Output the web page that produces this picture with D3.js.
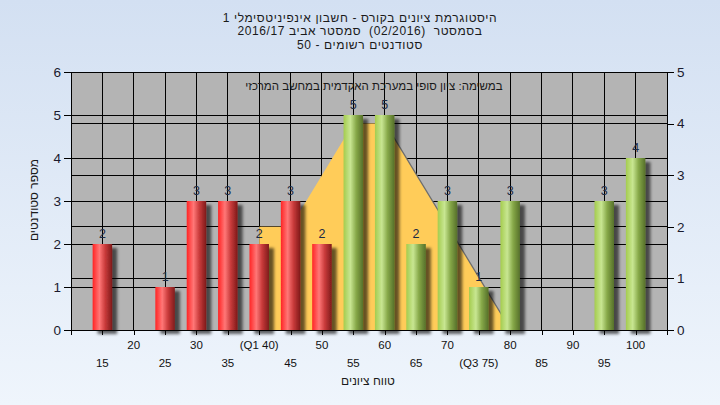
<!DOCTYPE html>
<html><head><meta charset="utf-8">
<script src="https://cdn.jsdelivr.net/npm/d3@7/dist/d3.min.js"></script>
<style>
html,body{margin:0;padding:0;}
body{width:720px;height:405px;overflow:hidden;}
text{font-family:"Liberation Sans",Arial,"DejaVu Sans",sans-serif;white-space:pre;}
</style></head>
<body>
<svg id="c" width="720" height="405"></svg>
<script>
// ---- data ----
const grades = [15,20,25,30,35,40,45,50,55,60,65,70,75,80,85,90,95,100];
const counts = [2,0,1,3,3,2,3,2,5,5,2,3,1,3,0,0,3,4];
const passMark = 55;
const curveX = [40,45,50,55,60,65,70,75,80];
const curveY = [2,2,3,4,4,3,2,1,0];
const xRow1Vals = [20,30,40,50,60,70,80,90,100];
const xRow1Labels = ["20","30","(Q1 40)","50","60","70","80","90","100"];
const xRow2Vals = [15,25,35,45,55,65,75,85,95];
const xRow2Labels = ["15","25","35","45","55","65","(Q3 75)","85","95"];
const titleLines = ["היסטוגרמת ציונים בקורס - חשבון אינפיניטסימלי 1",
                    "בסמסטר  (02/2016)  סמסטר אביב 2016/17",
                    "סטודנטים רשומים - 50"];
const subTitle = "במשימה: ציון סופי במערכת האקדמית במחשב המרכזי";
const yTitle = "מספר סטודנטים";
const xTitle = "טווח ציונים";

// ---- layout ----
const L = 71, R = 667, T = 72, B = 330;
const svg = d3.select("#c");
const defs = svg.append("defs");

const bg = defs.append("linearGradient").attr("id","bg").attr("x1",0).attr("y1",0).attr("x2",0).attr("y2",1);
bg.append("stop").attr("offset","0%").attr("stop-color","#d3e0f2");
bg.append("stop").attr("offset","100%").attr("stop-color","#eff5fc");

function cyl(id, stops){
  const g = defs.append("linearGradient").attr("id",id).attr("x1",0).attr("y1",0).attr("x2",1).attr("y2",0);
  stops.forEach(s=>g.append("stop").attr("offset",s[0]).attr("stop-color",s[1]));
}
cyl("redG", [["0%","#ff2424"],["35%","#ff7777"],["65%","#c83a3a"],["100%","#7e1a1a"]]);
cyl("greenG", [["0%","#a4cc4e"],["35%","#c8e692"],["65%","#86a848"],["100%","#56702a"]]);

const f = defs.append("filter").attr("id","sh").attr("x","-50%").attr("y","-20%").attr("width","200%").attr("height","140%");
f.append("feDropShadow").attr("dx",5).attr("dy",4).attr("stdDeviation",1.8)
  .attr("flood-color","#000").attr("flood-opacity",0.6);

svg.append("rect").attr("width",720).attr("height",405).attr("fill","url(#bg)");

const x = d3.scaleLinear().domain([10,105]).range([L,R]);
const yL = d3.scaleLinear().domain([0,6]).range([B,T]);
const yR = d3.scaleLinear().domain([0,5]).range([B,T]);

// plot background
svg.append("rect").attr("x",L).attr("y",T).attr("width",R-L).attr("height",B-T).attr("fill","#b4b4b4");

// grid
const grid = svg.append("g").attr("stroke","#000").attr("stroke-width",1).attr("shape-rendering","crispEdges");
grid.selectAll(".gl").data(yL.ticks(6)).join("line")
  .attr("x1",L).attr("x2",R).attr("y1",d=>yL(d)).attr("y2",d=>yL(d));
grid.selectAll(".gr").data(yR.ticks(5)).join("line")
  .attr("x1",L).attr("x2",R).attr("y1",d=>yR(d)).attr("y2",d=>yR(d));
grid.selectAll(".gv").data(d3.range(10,106,5)).join("line")
  .attr("x1",d=>x(d)).attr("x2",d=>x(d)).attr("y1",T).attr("y2",B);

// curve area (right axis)
const pts = curveX.map((v,i)=>[v,curveY[i]]);
const area = d3.area().x(d=>x(d[0])).y0(B).y1(d=>yR(d[1]));
svg.append("path").datum(pts).attr("d",area).attr("fill","#6e6e6e").attr("transform","translate(1.5,0)");
svg.append("path").datum(pts).attr("d",area).attr("fill","#ffcc59");

// sub title
svg.append("text").attr("x",374).attr("y",90).attr("text-anchor","middle").attr("direction","rtl")
  .attr("font-size",11.5).attr("fill","#1a1a1a").text(subTitle);

// bars
const bw = 19.5;
const data = grades.map((g,i)=>({g, c:counts[i]})).filter(d=>d.c>0);
svg.append("g").selectAll("rect").data(data).join("rect")
  .attr("x",d=>x(d.g)-bw/2).attr("width",bw)
  .attr("y",d=>yL(d.c)).attr("height",d=>B-yL(d.c))
  .attr("fill",d=>d.g>=passMark?"url(#greenG)":"url(#redG)")
  .attr("filter","url(#sh)");

svg.append("g").selectAll("text").data(data).join("text")
  .attr("x",d=>x(d.g)).attr("y",d=>yL(d.c)-6).attr("text-anchor","middle")
  .attr("font-size",12.5).attr("fill","#1c2a44").text(d=>d.c);

// axes
const axL = svg.append("g").attr("transform",`translate(${L},0)`)
  .call(d3.axisLeft(yL).ticks(6).tickSize(7).tickPadding(3).tickSizeOuter(0));
const axR = svg.append("g").attr("transform",`translate(${R},0)`)
  .call(d3.axisRight(yR).ticks(5).tickSize(7).tickPadding(3).tickSizeOuter(0));
const axB = svg.append("g").attr("transform",`translate(0,${B})`)
  .call(d3.axisBottom(x).tickValues(d3.range(10,106,5)).tickSize(5).tickFormat("").tickSizeOuter(0));
[axL,axR,axB].forEach(a=>{
  a.selectAll("path,line").attr("stroke","#000").attr("shape-rendering","crispEdges");
  a.selectAll("text").attr("font-size",13.5).attr("fill","#1a1a2e")
    .style("font-family",'"Liberation Sans",Arial,sans-serif');
});

// x labels
svg.append("g").selectAll("text").data(xRow1Vals).join("text")
  .attr("x",d=>x(d)).attr("y",349).attr("text-anchor","middle").attr("font-size",11.5).attr("fill","#111")
  .text((d,i)=>xRow1Labels[i]);
svg.append("g").selectAll("text").data(xRow2Vals).join("text")
  .attr("x",d=>x(d)).attr("y",366.5).attr("text-anchor","middle").attr("font-size",11.5).attr("fill","#111")
  .text((d,i)=>xRow2Labels[i]);

// titles
svg.append("g").selectAll("text").data(titleLines).join("text")
  .attr("x",360).attr("y",(d,i)=>21.5+i*13.5).attr("text-anchor","middle").attr("direction","rtl")
  .attr("font-size",12).attr("letter-spacing",0.6).attr("fill","#1a1a1a").text(d=>d);

svg.append("text").attr("transform","translate(38,200) rotate(-90)").attr("text-anchor","middle")
  .attr("direction","rtl").attr("font-size",12).attr("fill","#1a1a1a").text(yTitle);
svg.append("text").attr("x",368).attr("y",385).attr("text-anchor","middle")
  .attr("direction","rtl").attr("font-size",12).attr("fill","#1a1a1a").text(xTitle);
</script>
</body></html>
